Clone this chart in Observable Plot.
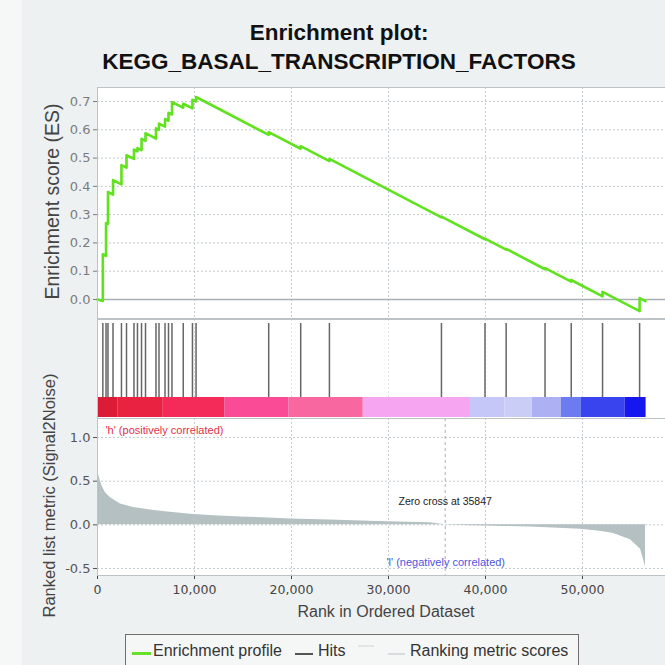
<!DOCTYPE html>
<html>
<head>
<meta charset="utf-8">
<script src="https://cdn.jsdelivr.net/npm/d3@7"></script>
<script src="https://cdn.jsdelivr.net/npm/@observablehq/plot@0.6"></script>
<style>
  html, body { margin: 0; padding: 0; background: #eef1f2; }
  #wrap { position: relative; width: 665px; height: 665px; overflow: hidden; background: #eef1f2; font-family: "Liberation Sans", Arial, sans-serif; }
  .abs { position: absolute; }
  .t1, .t2 { position: absolute; left: 13px; width: 652px; text-align: center; font-weight: bold; font-size: 22.5px; color: #111; line-height: 30px; white-space: nowrap; }
  .ytitle { position: absolute; white-space: nowrap; color: #444; transform-origin: center center; }
  #legend { position: absolute; left: 125px; top: 634px; width: 452px; height: 45px; border: 1px solid #6e6e6e; background: #f5f6f6; font-size: 16px; color: #333; }
  #legend span { position: absolute; white-space: nowrap; }
  #legend i { position: absolute; height: 0; }
</style>
</head>
<body>
<div id="wrap">
  <div class="abs" style="left:0;top:0;width:22px;height:665px;background:#f6f7f7"></div>
  <div class="t1" style="top:18px">Enrichment plot:</div>
  <div class="t2" style="top:47px">KEGG_BASAL_TRANSCRIPTION_FACTORS</div>
  <div id="pA" class="abs" style="left:0;top:80px"></div>
  <div id="pB" class="abs" style="left:0;top:312px"></div>
  <div id="pC" class="abs" style="left:0;top:410px"></div>
  <div class="ytitle" id="yt1" style="font-size:19.5px">Enrichment score (ES)</div>
  <div class="ytitle" id="yt2" style="font-size:16.5px">Ranked list metric (Signal2Noise)</div>
  <div class="abs" id="xt" style="left:286px;top:603px;width:200px;text-align:center;font-size:16px;color:#444;white-space:nowrap">Rank in Ordered Dataset</div>
  <div id="legend">
    <i style="left:6px;top:17px;width:19px;border-top:3px solid #66e02a"></i>
    <span style="left:27px;top:7px">Enrichment profile</span>
    <i style="left:169px;top:18px;width:18px;border-top:2px solid #555"></i>
    <span style="left:192px;top:7px">Hits</span>
    <i style="left:232px;top:10px;width:16px;border-top:2px solid #e2e6e8"></i>
    <i style="left:262px;top:18px;width:17px;border-top:2px solid #d6dbdd"></i>
    <span style="left:284px;top:7px">Ranking metric scores</span>
  </div>
</div>
<script>
// ---------- data ----------
const xTicks = [0, 10000, 20000, 30000, 40000, 50000];
const esTicks = [0, 0.1, 0.2, 0.3, 0.4, 0.5, 0.6, 0.7];
const metricTicks = [-0.5, 0, 0.5, 1.0];
const zeroCross = 35847;
const totalRanks = 58560;

const hitRanks = [550, 880, 1080, 1600, 2470, 2990, 3760, 4120, 4540, 4950, 6030, 6340, 6960, 7320, 7680, 8840, 9790, 10160,
  17650, 20950, 23910, 35460, 39950, 42130, 46140, 48840, 52070, 55890];

const esRanks = [0, 550, 550, 880, 880, 1080, 1080, 1600, 1600, 2470, 2470, 2990, 2990, 3760, 3760, 4120, 4120, 4540, 4540,
  4950, 4950, 6030, 6030, 6340, 6340, 6960, 6960, 7320, 7320, 7680, 7680, 8840, 8840, 9790, 9790, 10160, 10160,
  17650, 17650, 20950, 20950, 23910, 23910, 35460, 35460, 39950, 39950, 42130, 42130, 46140, 46140, 48840, 48840,
  52070, 52070, 55890, 55890, 56500];
const esScores = [0, -0.005, 0.16, 0.154, 0.27, 0.267, 0.38, 0.371, 0.422, 0.407, 0.475, 0.466, 0.51, 0.497, 0.53,
  0.524, 0.535, 0.528, 0.568, 0.561, 0.588, 0.569, 0.605, 0.600, 0.622, 0.611, 0.638, 0.632, 0.66, 0.654, 0.698,
  0.678, 0.692, 0.676, 0.706, 0.700, 0.716, 0.582, 0.592, 0.533, 0.542, 0.489, 0.497, 0.290, 0.293, 0.213, 0.215,
  0.176, 0.179, 0.107, 0.111, 0.063, 0.069, 0.011, 0.027, -0.041, 0.005, -0.006];

const metricRanks = [0, 150, 300, 500, 800, 1340, 2370, 3710, 5460, 7000, 9600, 12000, 14740, 17000, 19900, 24000,
  28000, 32000, 34300, 35847, 36000, 38560, 42000, 44640, 47000, 49800, 52000, 53200, 54950, 55990, 56300, 56500];
const metricValues = [0.60, 0.56, 0.50, 0.44, 0.37, 0.31, 0.24, 0.20, 0.17, 0.15, 0.12, 0.105, 0.09, 0.08, 0.068, 0.055,
  0.042, 0.03, 0.025, 0.0, -0.002, -0.01, -0.018, -0.025, -0.035, -0.05, -0.075, -0.10, -0.17, -0.28, -0.40, -0.48];

const barStarts = [0, 2090, 6780, 13150, 19720, 27400, 38460, 42010, 44830, 47830, 49890, 54380];
const barEnds   = [2090, 6780, 13150, 19720, 27400, 38460, 42010, 44830, 47830, 49890, 54380, 56560];
const barColors = ["#dc1c36", "#ea2242", "#f42b58", "#fa4b97", "#f8679f", "#f6a6f1", "#c4c7f7", "#cacdf6",
  "#adb1f3", "#6b7bf0", "#3a44ee", "#1517ee"];

// ---------- build tables ----------
const esData = esRanks.map((r, i) => ({rank: r, es: esScores[i]}));
const metricData = metricRanks.map((r, i) => ({rank: r, value: metricValues[i]}));
const barData = barColors.map((c, i) => ({x1: barStarts[i], x2: barEnds[i], color: c}));

const W = 665, ML = 97, MR = 0;
const gridStyle = {stroke: "#c4cacd", strokeOpacity: 1, strokeDasharray: "2,2"};
const font = {fontFamily: "DejaVu Sans, sans-serif", background: "transparent", overflow: "visible"};

// Panel A: running enrichment score
const pA = Plot.plot({
  width: W, height: 240, marginLeft: ML, marginRight: MR, marginTop: 7, marginBottom: 2,
  style: font,
  x: {domain: [0, totalRanks], axis: null},
  y: {domain: [-0.0672, 0.7495], axis: null},
  marks: [
    Plot.frame({fill: "white", stroke: "none"}),
    Plot.gridY(esTicks, gridStyle),
    Plot.gridX(xTicks.slice(1), gridStyle),
    Plot.ruleY([0], {stroke: "#a9afb2", strokeWidth: 1.6}),
    Plot.line(esData, {x: "rank", y: "es", stroke: "#60e21f", strokeWidth: 2.6}),
    Plot.axisY(esTicks, {tickFormat: d => d.toFixed(1), tickSize: 4, tickPadding: 3, color: "#7c7c7c", fontSize: 13, label: null}),
    Plot.frame({stroke: "#bcc2c5"})
  ]
});
document.getElementById("pA").appendChild(pA);

// Panel B: hits and ranked-list colour bar
const pB = Plot.plot({
  width: W, height: 108, marginLeft: ML, marginRight: MR, marginTop: 7, marginBottom: 2,
  style: font,
  x: {domain: [0, totalRanks], axis: null},
  color: {type: "identity"},
  marks: [
    Plot.frame({fill: "white", stroke: "none"}),
    Plot.gridX(xTicks.slice(1), {stroke: "#dde1e3", strokeOpacity: 1, strokeDasharray: "2,2"}),
    Plot.ruleX(hitRanks, {x: d => d, stroke: "#333", strokeWidth: 1.5, strokeOpacity: 0.75, insetTop: 4, insetBottom: 21}),
    Plot.rect(barData, {x1: "x1", x2: "x2", fill: "color", insetTop: 78, insetBottom: 1}),
    Plot.frame({stroke: "#bcc2c5"})
  ]
});
document.getElementById("pB").appendChild(pB);

// Panel C: ranked list metric
const pC = Plot.plot({
  width: W, height: 215, marginLeft: ML, marginRight: MR, marginTop: 8, marginBottom: 50,
  style: font,
  x: {domain: [0, totalRanks], axis: null},
  y: {domain: [-0.58, 1.2176], axis: null},
  marks: [
    Plot.frame({fill: "white", stroke: "none"}),
    Plot.gridY(metricTicks, gridStyle),
    Plot.gridX(xTicks.slice(1), gridStyle),
    Plot.areaY(metricData, {x: "rank", y: "value", fill: "#b5c0c3"}),
    Plot.ruleX([zeroCross], {stroke: "#a8b0b4", strokeDasharray: "3,3"}),
    Plot.text([zeroCross], {x: d => d, text: d => `Zero cross at ${d}`, frameAnchor: "top", dy: 79, fontSize: 10.5, fill: "#222", fontFamily: "Liberation Sans, Arial, sans-serif"}),
    Plot.text(["'h' (positively correlated)"], {text: d => d, frameAnchor: "top-left", textAnchor: "start", dx: 8, dy: 8, fontSize: 11, fill: "#e0304a", fontFamily: "Liberation Sans, Arial, sans-serif"}),
    Plot.text(["'l' (negatively correlated)"], {text: d => d, frameAnchor: "bottom", textAnchor: "start", dx: 5, dy: -10, fontSize: 11, fill: "#4a55dd", fontFamily: "Liberation Sans, Arial, sans-serif"}),
    Plot.axisY(metricTicks, {tickFormat: d => d.toFixed(1), tickSize: 4, tickPadding: 3, color: "#555", fontSize: 13, label: null}),
    Plot.axisX(xTicks, {tickFormat: d3.format(","), tickSize: 4, tickPadding: 6, color: "#444", fontSize: 12.5, label: null}),
    Plot.frame({stroke: "#bcc2c5"})
  ]
});
document.getElementById("pC").appendChild(pC);

// place rotated axis titles
function placeY(id, cx, cy) {
  const el = document.getElementById(id);
  const w = el.offsetWidth, h = el.offsetHeight;
  el.style.left = (cx - w / 2) + "px";
  el.style.top = (cy - h / 2) + "px";
  el.style.transform = "rotate(-90deg)";
}
placeY("yt1", 52, 201);
placeY("yt2", 50, 495);
</script>
</body>
</html>
